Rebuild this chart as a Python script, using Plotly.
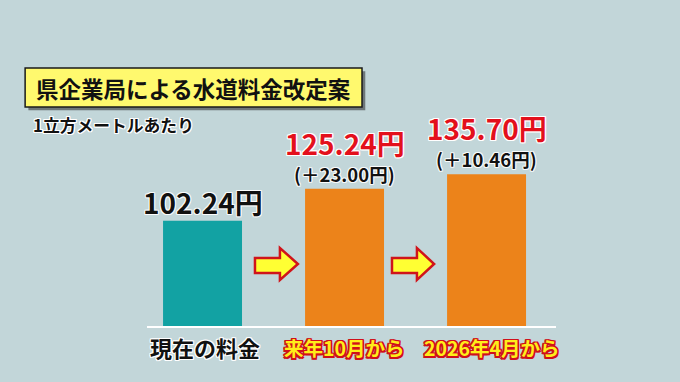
import plotly.graph_objects as go

# ---- data ----
categories = ["現在の料金", "来年10月から", "2026年4月から"]
values = [102.24, 125.24, 135.70]
bar_colors = ["#12a2a3", "#ec831a", "#ec831a"]
title_text = "県企業局による水道料金改定案"
subtitle_text = "1立方メートルあたり"

FONT = "Noto Sans CJK JP"
BG = "#c2d6d9"
RED = "#e3101c"
YEL = "#ffee1a"


def outline(color, w=1):
    parts = []
    for dx, dy in [(w, 0), (-w, 0), (0, w), (0, -w), (w, w), (-w, -w), (w, -w), (-w, w)]:
        parts.append(f"{dx}px {dy}px 0 {color}")
    return ", ".join(parts)


fig = go.Figure()
fig.add_trace(go.Bar(
    x=categories, y=values, marker=dict(color=bar_colors, line=dict(width=0)),
    width=0.556, hoverinfo="skip", showlegend=False,
))

annotations = []
# value labels
for i, (c, v) in enumerate(zip(categories, values)):
    if i == 0:
        annotations.append(dict(
            x=c, y=v, xref="x", yref="y", text=f"{v:.2f}円", showarrow=False,
            yanchor="middle", yshift=19,
            font=dict(family=FONT, size=28, color="#111111", weight="bold",
                      shadow=outline("rgba(255,255,255,0.7)", 1)),
        ))
    else:
        d = v - values[i - 1]
        annotations.append(dict(
            x=c, y=v, xref="x", yref="y", text=f"{v:.2f}円", showarrow=False,
            yanchor="middle", yshift=46,
            font=dict(family=FONT, size=28, color=RED, weight="bold",
                      shadow=outline("#ffffff", 1)),
        ))
        annotations.append(dict(
            x=c, y=v, xref="x", yref="y", text=f"(＋{d:.2f}円)", showarrow=False,
            yanchor="middle", yshift=15,
            font=dict(family=FONT, size=18.5, color="#111111", weight="bold",
                      shadow=outline("rgba(255,255,255,0.7)", 1)),
        ))

# category labels
xshifts = [2, 0, 5]
for i, c in enumerate(categories):
    if i == 0:
        f = dict(family=FONT, size=22, color="#111111", weight="bold",
                 shadow=outline("#ffffff", 1))
    else:
        f = dict(family=FONT, size=19.5, color=YEL, weight="bold",
                 shadow=outline("#d0101a", 1.5))
    annotations.append(dict(
        x=c, y=0, xref="x", yref="paper", text=c, showarrow=False,
        yanchor="middle", yshift=-21, xshift=xshifts[i], font=f,
    ))

# title and subtitle
annotations.append(dict(
    x=(-0.298 + 0.5257) / 2, y=1.0085, xref="paper", yref="paper", text=title_text,
    showarrow=False, xanchor="center", yanchor="middle",
    font=dict(family=FONT, size=22.5, color="#111111", weight="bold"),
))
annotations.append(dict(
    x=-0.283, y=0.852, xref="paper", yref="paper", text=subtitle_text,
    showarrow=False, xanchor="left", yanchor="middle",
    font=dict(family=FONT, size=16.8, color="#111111", weight="bold",
              shadow=outline("#ffffff", 1)),
))

shapes = []
# title box shadow + box
shapes.append(dict(type="rect", xref="paper", yref="paper",
                   x0=-0.298 + 0.008, x1=0.5257 + 0.008, y0=0.928 - 0.014, y1=1.093 - 0.014,
                   fillcolor="rgba(40,40,40,0.55)", line=dict(width=0), layer="above"))
shapes.append(dict(type="rect", xref="paper", yref="paper",
                   x0=-0.298, x1=0.5257, y0=0.928, y1=1.093,
                   fillcolor="#fff96e", line=dict(color="#1a1a1a", width=1.5), layer="above"))


# arrows
def arrow_path(x0, xh, x1, yb, ys0, ys1, yt):
    ym = (yb + yt) / 2
    return (f"M {x0},{ys0} L {xh},{ys0} L {xh},{yb} L {x1},{ym} L {xh},{yt} "
            f"L {xh},{ys1} L {x0},{ys1} Z")


for (x0, xh, x1) in [(0.264, 0.325, 0.369), (0.599, 0.660, 0.702)]:
    shapes.append(dict(type="path", xref="paper", yref="paper",
                       path=arrow_path(x0, xh, x1, 0.195, 0.2246, 0.288, 0.3305),
                       fillcolor="#ffff33", line=dict(color="#d0141a", width=2.5),
                       layer="above"))

fig.update_layout(
    width=680, height=382,
    margin=dict(l=147, r=124, t=90, b=56),
    paper_bgcolor=BG, plot_bgcolor=BG,
    xaxis=dict(range=[-0.391, 2.489], showticklabels=False, showgrid=False,
               zeroline=False, showline=True, linecolor="#ffffff", linewidth=2,
               ticks=""),
    yaxis=dict(range=[26.24, 196.6], showticklabels=False, showgrid=False,
               zeroline=False, showline=False),
    annotations=annotations, shapes=shapes,
    showlegend=False,
)

fig.write_html(
    "out.html",
    config={"displayModeBar": False},
    post_script="document.body.style.margin='0';document.body.style.background='%s';" % BG,
)
